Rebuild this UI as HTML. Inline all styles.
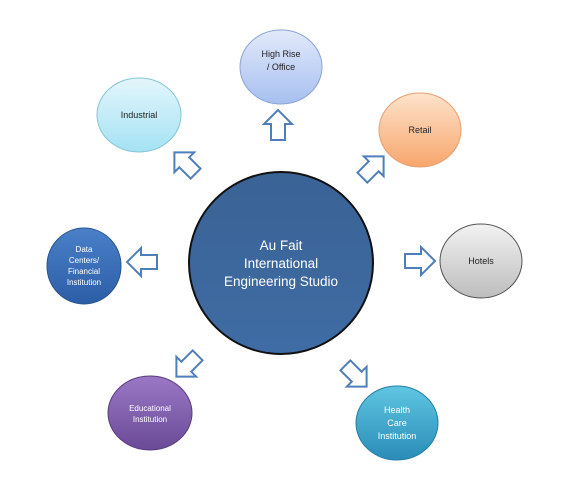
<!DOCTYPE html>
<html><head><meta charset="utf-8"><style>html,body{margin:0;padding:0;background:#fff}svg{display:block}text{font-family:"Liberation Sans",sans-serif}</style></head>
<body>
<svg width="575" height="502" viewBox="0 0 575 502" xmlns="http://www.w3.org/2000/svg">
<defs>
<linearGradient id="gC" x1="0" y1="0" x2="0" y2="1"><stop offset="0" stop-color="#3a6396"/><stop offset="1" stop-color="#3f6ca4"/></linearGradient>
<linearGradient id="gH" x1="0" y1="0" x2="0" y2="1"><stop offset="0" stop-color="#e2eafa"/><stop offset="1" stop-color="#a7bff0"/></linearGradient>
<linearGradient id="gI" x1="0" y1="0" x2="0" y2="1"><stop offset="0" stop-color="#e4f6fb"/><stop offset="1" stop-color="#a4e2f4"/></linearGradient>
<linearGradient id="gR" x1="0" y1="0" x2="0" y2="1"><stop offset="0" stop-color="#fde3cc"/><stop offset="1" stop-color="#f8a66c"/></linearGradient>
<linearGradient id="gT" x1="0" y1="0" x2="0" y2="1"><stop offset="0" stop-color="#f2f2f2"/><stop offset="1" stop-color="#bdbdbd"/></linearGradient>
<linearGradient id="gD" x1="0" y1="0" x2="0" y2="1"><stop offset="0" stop-color="#4a80c8"/><stop offset="1" stop-color="#2c5ea6"/></linearGradient>
<linearGradient id="gE" x1="0" y1="0" x2="0" y2="1"><stop offset="0" stop-color="#9a78c6"/><stop offset="1" stop-color="#6a4a96"/></linearGradient>
<linearGradient id="gM" x1="0" y1="0" x2="0" y2="1"><stop offset="0" stop-color="#5fc6e2"/><stop offset="1" stop-color="#2a8cb7"/></linearGradient>
<path id="ar" d="M-15,-7 L1,-7 L1,-14 L15,0 L1,14 L1,7 L-15,7 Z" fill="#fff" stroke="#4f7fba" stroke-width="2"/>
</defs>
<ellipse cx="281" cy="263" rx="92" ry="91" fill="url(#gC)" stroke="#111" stroke-width="2"/>
<g fill="#fff" font-size="13.5" text-anchor="middle"><text x="281" y="250">Au Fait</text><text x="281" y="268">International</text><text x="281" y="286">Engineering Studio</text></g>

<ellipse cx="281" cy="67" rx="41" ry="37" fill="url(#gH)" stroke="#8aa4d6" stroke-width="1"/>
<ellipse cx="139" cy="115" rx="42" ry="37" fill="url(#gI)" stroke="#86c6d8" stroke-width="1"/>
<ellipse cx="420" cy="130" rx="41" ry="37" fill="url(#gR)" stroke="#e8a070" stroke-width="1"/>
<ellipse cx="481" cy="261" rx="41" ry="37" fill="url(#gT)" stroke="#555" stroke-width="1"/>
<ellipse cx="84" cy="266" rx="37" ry="38" fill="url(#gD)" stroke="#2a5490" stroke-width="1"/>
<ellipse cx="150" cy="413" rx="42" ry="37" fill="url(#gE)" stroke="#5a3e82" stroke-width="1"/>
<ellipse cx="397" cy="423" rx="41" ry="37" fill="url(#gM)" stroke="#267fa8" stroke-width="1"/>

<g font-size="9" text-anchor="middle" fill="#222">
<text x="281" y="57">High Rise</text><text x="281" y="70">/ Office</text>
<text x="139" y="118">Industrial</text>
<text x="420" y="133">Retail</text>
<text x="481" y="264">Hotels</text>
</g>
<g font-size="8" text-anchor="middle" fill="#fff">
<text x="84" y="252">Data</text><text x="84" y="263">Centers/</text><text x="84" y="274">Financial</text><text x="84" y="285">Institution</text>
<text x="150" y="411">Educational</text><text x="150" y="422">Institution</text>
</g>
<g font-size="9" text-anchor="middle" fill="#fff">
<text x="397" y="413">Health</text><text x="397" y="426">Care</text><text x="397" y="439">Institution</text>
</g>

<use href="#ar" transform="translate(278,125) rotate(-90)"/>
<use href="#ar" transform="translate(185,163) rotate(-135)"/>
<use href="#ar" transform="translate(373,167) rotate(-45)"/>
<use href="#ar" transform="translate(420,261)"/>
<use href="#ar" transform="translate(142,262) rotate(180)"/>
<use href="#ar" transform="translate(187,366) rotate(135)"/>
<use href="#ar" transform="translate(356,376) rotate(45)"/>
</svg>
</body></html>
